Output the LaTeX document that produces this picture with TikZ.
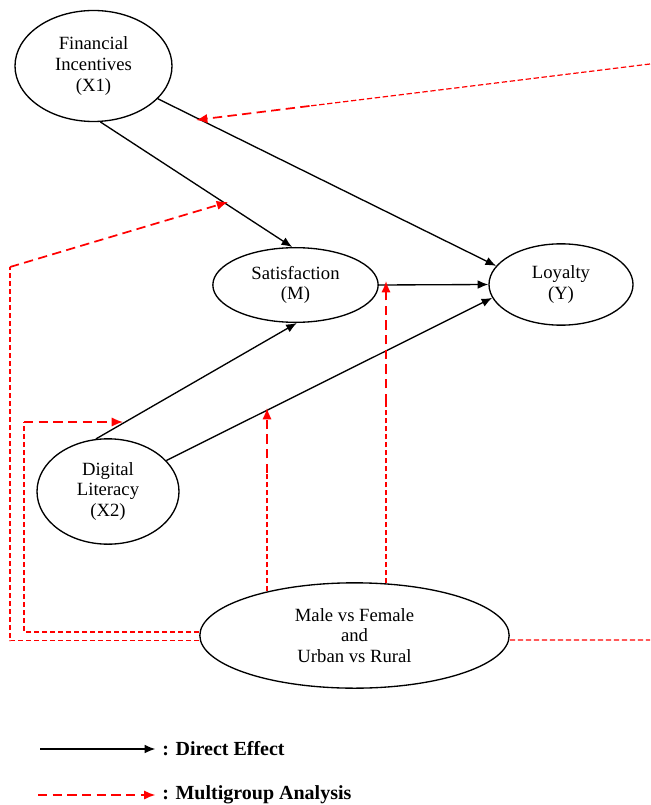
\documentclass[tikz,border=0pt]{standalone}
\usepackage{fontspec}
\setmainfont{Liberation Serif}
\usetikzlibrary{shapes.geometric,calc,arrows.meta}

\tikzset{
  latent/.style={ellipse, draw, line width=1pt, align=center, inner sep=1pt, font=\fontsize{14}{15.5}\selectfont},
  direct/.style={line width=1pt, -{Latex[length=8pt,width=6.5pt]}},
  grpthin/.style={red, line width=0.9pt, dash pattern=on 4pt off 2pt},
  grpthick/.style={red, line width=1.3pt, dash pattern=on 7pt off 4pt, -{Latex[length=8.5pt,width=7pt]}},
  legtext/.style={anchor=west, inner sep=0pt, font=\fontsize{15}{18}\selectfont\bfseries}
}

\begin{document}
\begin{tikzpicture}[x=0.75pt,y=-0.75pt]
  \useasboundingbox (0,0) rectangle (650,805);

  % Constructs
  \node[latent, minimum width=117.75pt, minimum height=83.25pt] (fin) at (93.5,66) {Financial\\Incentives\\(X1)};
  \node[latent, minimum width=124pt, minimum height=56pt] (sat) at (295.5,285) {Satisfaction\\(M)};
  \node[latent, minimum width=108pt, minimum height=61pt] (loy) at (561,284.5) {Loyalty\\(Y)};
  \node[latent, minimum width=106.5pt, minimum height=79pt] (dig) at (108,491.5) {Digital\\Literacy\\(X2)};
  \node[latent, minimum width=232pt, minimum height=79pt] (grp) at (354.5,635.5) {Male vs Female\\and\\Urban vs Rural};

  % Direct effects
  \draw[direct] (fin.-27) -- (loy.164);
  \draw[direct] (fin.-83) -- (sat.95);
  \draw[direct] (sat.east) -- (loy.west);
  \draw[direct] (dig.103) -- (sat.-88);
  \draw[direct] (dig.28) -- (loy.191);

  % Multigroup paths
  \coordinate (e1) at (650,64);
  \coordinate (t1) at (196,120);
  \coordinate (m1) at ($(t1)!0.25!(e1)$);
  \coordinate (c2) at (10,267);
  \coordinate (t2) at (228,202);
  \coordinate (c3) at (24,422);
  \coordinate (t3) at (123,422);
  \coordinate (m4) at (267,473);
  \coordinate (t4) at (267,408);
  \coordinate (m5) at (386,403);
  \coordinate (t5) at (386,281);
  \coordinate (e2) at (650,640);

  \draw[grpthin] (e1) -- (m1);
  \draw[grpthick] (m1) -- (t1);
  \draw[grpthin] ([yshift=-4pt]grp.west) -| (c2);
  \draw[grpthick] (c2) -- (t2);
  \draw[grpthin] ([yshift=2.6pt]grp.west) -| (c3);
  \draw[grpthick] (c3) -- (t3);
  \draw[grpthin] (m4 |- grp.153) -- (m4);
  \draw[grpthick] (m4) -- (t4);
  \draw[grpthin] (m5 |- grp.58.5) -- (m5);
  \draw[grpthick] (m5) -- (t5);
  \draw[grpthin] ([yshift=-3.4pt]grp.east) -- (e2);

  % Legend
  \node[legtext] (legdir) at (162,749) {: Direct Effect};
  \node[legtext] (leggrp) at (162,795) {: Multigroup Analysis};
  \coordinate (ld) at (40,749);
  \coordinate (lg) at (38,795);
  \draw[direct] (ld) -- ([xshift=-5pt]legdir.west);
  \draw[grpthick] (lg) -- ([xshift=-5pt]leggrp.west);
\end{tikzpicture}
\end{document}
